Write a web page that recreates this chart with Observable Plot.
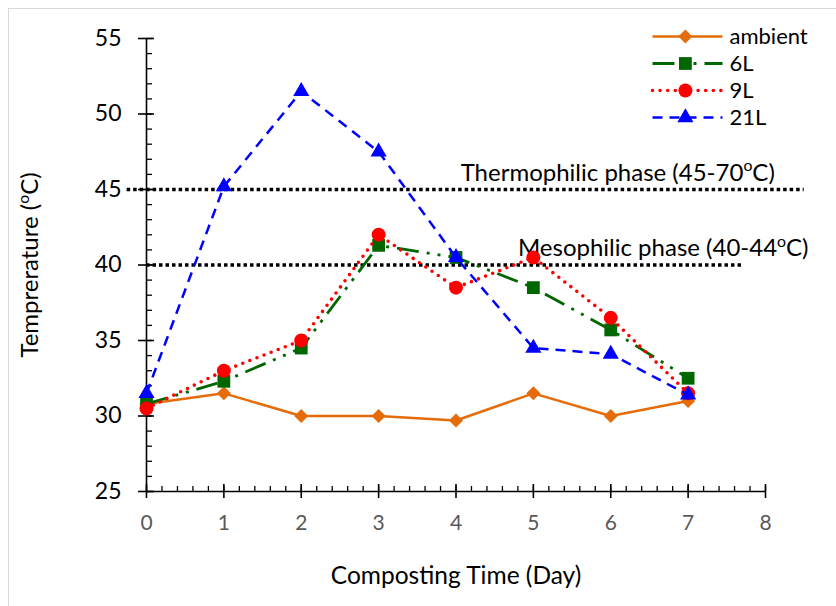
<!DOCTYPE html>
<html><head><meta charset="utf-8">
<script src="https://cdn.jsdelivr.net/npm/d3@7"></script>
<script src="https://cdn.jsdelivr.net/npm/@observablehq/plot@0.6"></script>
<style>
html,body{margin:0;padding:0;background:#fff;overflow:hidden;width:836px;height:606px}
#wrap{position:relative;width:836px;height:606px;overflow:hidden}
#frame{position:absolute;left:8px;top:8px;width:1000px;height:1000px;border-left:1px solid #d9d9d9;border-top:1px solid #d9d9d9}
#chart{position:absolute;left:0;top:0}
#legend{position:absolute;left:640px;top:15px}
</style></head><body>
<div id="wrap"><div id="frame"></div><div id="chart"></div><div id="legend"></div></div>
<script>
// ---- data ----
const days = [0, 1, 2, 3, 4, 5, 6, 7];
const ambient = [30.8, 31.5, 30, 30, 29.7, 31.5, 30, 31];
const s6L = [30.8, 32.3, 34.5, 41.3, 40.5, 38.5, 35.7, 32.5];
const s9L = [30.5, 33, 35, 42, 38.5, 40.5, 36.5, 31.5];
const s21L = [31.5, 45.2, 51.5, 47.5, 40.5, 34.5, 34.1, 31.4];
const seriesNames = ["ambient", "6L", "9L", "21L"];
const seriesValues = [ambient, s6L, s9L, s21L];
const xTicks = [0, 1, 2, 3, 4, 5, 6, 7, 8];
const yTicks = [25, 30, 35, 40, 45, 50, 55];
const phaseY = [45, 40];
const phaseX1 = [-0.25, 0];
const phaseX2 = [8.5, 7.7];
const phaseLabels = ["Thermophilic phase (45-70ºC)", "Mesophilic phase (40-44ºC)"];
const phaseLabelX = [4.06, 4.8];
const xLabel = "Composting Time (Day)";
const yLabel = "Temprerature (ºC)";

// ---- styles ----
const styles = {
  "ambient": {stroke: "#E46C0A", width: 2.5, dash: null, cap: "butt", symbol: "diamond2", r: 6.3},
  "6L": {stroke: "#006600", width: 2.8, dash: "22,8,3,8,3,8", cap: "butt", symbol: "square", r: 7.2},
  "9L": {stroke: "#FF0000", width: 3.6, dash: "0,7.6", cap: "round", symbol: "circle", r: 7},
  "21L": {stroke: "#0000FF", width: 2.5, dash: "10,7", cap: "butt", symbol: "triangle", r: 6}
};
const FONT = "Lato, 'Open Sans', sans-serif";

const rows = seriesNames.flatMap((s, i) => days.map((d, j) => ({series: s, day: d, temp: seriesValues[i][j]})));
const phases = phaseY.map((y, i) => ({y, x1: phaseX1[i], x2: phaseX2[i], label: phaseLabels[i], lx: phaseLabelX[i]}));
const xMinor = d3.range(0, 8.0001, 0.2).map(v => +v.toFixed(1));
const yMinor = d3.range(25, 55.5, 1);

const seriesMarks = seriesNames.flatMap(s => {
  const st = styles[s];
  const data = rows.filter(r => r.series === s);
  return [
    Plot.line(data, {x: "day", y: "temp", stroke: st.stroke, strokeWidth: st.width,
      strokeDasharray: st.dash, strokeLinecap: st.cap, strokeLinejoin: "round"}),
    Plot.dot(data, {x: "day", y: "temp", symbol: st.symbol, r: st.r, fill: st.stroke, stroke: "none"})
  ];
});

const chart = Plot.plot({
  width: 836, height: 606,
  marginLeft: 146, marginRight: 71, marginTop: 38, marginBottom: 115,
  style: {fontFamily: FONT, background: "transparent", overflow: "visible"},
  x: {domain: [0, 8], axis: null},
  y: {domain: [25, 55], axis: null},
  marks: [
    // phase lines
    Plot.ruleY(phases, {y: "y", x1: "x1", x2: "x2", stroke: "#000", strokeWidth: 3.5, strokeDasharray: "3.5,3"}),
    Plot.text(phases, {x: "lx", y: "y", text: "label", textAnchor: "start", lineAnchor: "bottom", dy: -9, fontSize: 24, fill: "#000"}),
    // axes lines
    Plot.ruleX([0], {y1: 25, y2: 55, stroke: "#000", strokeWidth: 1.6}),
    Plot.ruleY([25], {x1: 0, x2: 8, stroke: "#000", strokeWidth: 1.6}),
    // y ticks
    Plot.axisY(yTicks, {anchor: "left", tickSize: 8, tickPadding: 17, fontSize: 23, color: "#000", strokeWidth: 1.6, tickFormat: d => d}),
    Plot.axisY(yTicks, {anchor: "left", tickSize: 8, dx: 8, fill: "none", strokeWidth: 1.6, tickFormat: () => ""}),
    Plot.axisY(yMinor, {anchor: "left", tickSize: 6, dx: 6, fill: "none", strokeWidth: 1.3, tickFormat: () => ""}),
    // x ticks
    Plot.axisX(xTicks, {anchor: "bottom", tickSize: 7, tickPadding: 17, fontSize: 21, color: "#595959", stroke: "#000", strokeWidth: 1.6, tickFormat: d => d}),
    Plot.axisX(xTicks, {anchor: "bottom", tickSize: 7, dy: -7, fill: "none", stroke: "#000", strokeWidth: 1.6, tickFormat: () => ""}),
    Plot.axisX(xMinor, {anchor: "bottom", tickSize: 5, dy: -5, fill: "none", stroke: "#000", strokeWidth: 1.3, tickFormat: () => ""}),
    // axis titles
    Plot.text([xLabel], {frameAnchor: "bottom", dy: 85, fontSize: 24.5, fill: "#000", textAnchor: "middle", lineAnchor: "middle"}),
    Plot.text([yLabel], {frameAnchor: "left", dx: -116, rotate: -90, fontSize: 24, fill: "#000", textAnchor: "middle", lineAnchor: "middle"}),
    ...seriesMarks
  ]
});
document.getElementById("chart").appendChild(chart);

// ---- legend ----
const legendRows = seriesNames.flatMap(s => [{series: s, x: 0}, {series: s, x: 1}]);
const legendMarks = seriesNames.flatMap(s => {
  const st = styles[s];
  const data = legendRows.filter(r => r.series === s);
  return [
    Plot.line(data, {x: "x", y: "series", stroke: st.stroke, strokeWidth: st.width, strokeDasharray: st.dash, strokeLinecap: st.cap}),
    Plot.dot([s], {x: 0.47, y: d => d, symbol: st.symbol, r: st.r, fill: st.stroke, stroke: "none"})
  ];
});
const legend = Plot.plot({
  width: 196, height: 125, margin: 0,
  style: {fontFamily: FONT, background: "transparent", overflow: "visible"},
  x: {domain: [0, 1], range: [12, 82], axis: null},
  y: {type: "point", domain: seriesNames, range: [21, 102], padding: 0, axis: null},
  marks: [
    ...legendMarks,
    Plot.text(seriesNames, {x: 1, y: d => d, text: d => d, dx: 7, textAnchor: "start", fontSize: 22, fill: "#000"})
  ]
});
document.getElementById("legend").appendChild(legend);

// superscript "o" in °C labels
function superO(root) {
  const ns = "http://www.w3.org/2000/svg";
  root.querySelectorAll("text").forEach(t => {
    if (t.children.length || !t.textContent.includes("º")) return;
    const fs = parseFloat(getComputedStyle(t).fontSize) || 20;
    const [a, b] = t.textContent.split("º");
    t.textContent = "";
    const t1 = document.createElementNS(ns, "tspan"); t1.textContent = a;
    const t2 = document.createElementNS(ns, "tspan"); t2.textContent = "o";
    t2.setAttribute("dy", (-0.38 * fs).toFixed(1)); t2.setAttribute("font-size", (0.66 * fs).toFixed(1));
    const t3 = document.createElementNS(ns, "tspan"); t3.textContent = b;
    t3.setAttribute("dy", (0.38 * fs).toFixed(1));
    t.append(t1, t2, t3);
  });
}
superO(chart);
</script>
</body></html>
